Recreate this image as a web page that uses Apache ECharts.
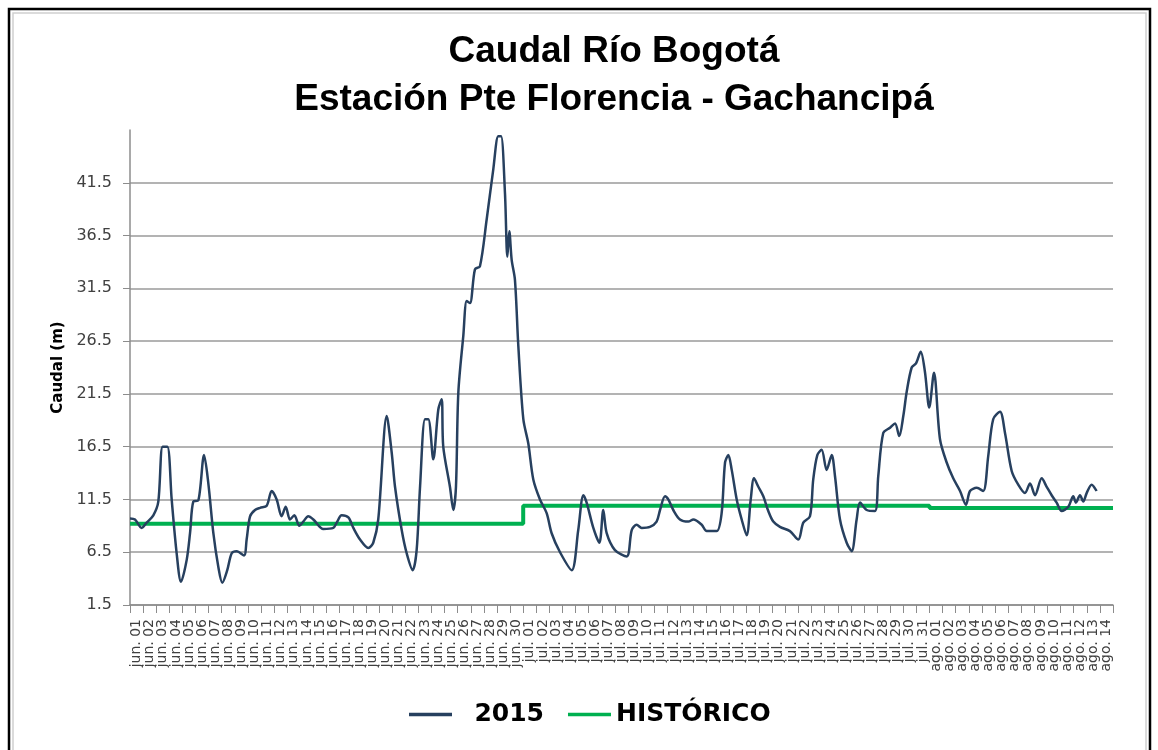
<!DOCTYPE html>
<html>
<head>
<meta charset="utf-8">
<title>Caudal Río Bogotá</title>
<script src="https://cdn.jsdelivr.net/npm/echarts@6/dist/echarts.min.js"></script>
<style>
  html, body { margin: 0; padding: 0; background: #fff; }
  #chart { width: 1158px; height: 750px; }
</style>
</head>
<body>
<div id="chart"></div>
<script>
// etiquetas del eje x, un dia por categoria
var dias = [
  'jun. 01', 'jun. 02', 'jun. 03', 'jun. 04', 'jun. 05', 'jun. 06', 'jun. 07', 'jun. 08', 'jun. 09', 'jun. 10',
  'jun. 11', 'jun. 12', 'jun. 13', 'jun. 14', 'jun. 15', 'jun. 16', 'jun. 17', 'jun. 18', 'jun. 19', 'jun. 20',
  'jun. 21', 'jun. 22', 'jun. 23', 'jun. 24', 'jun. 25', 'jun. 26', 'jun. 27', 'jun. 28', 'jun. 29', 'jun. 30',
  'jul. 01', 'jul. 02', 'jul. 03', 'jul. 04', 'jul. 05', 'jul. 06', 'jul. 07', 'jul. 08', 'jul. 09', 'jul. 10',
  'jul. 11', 'jul. 12', 'jul. 13', 'jul. 14', 'jul. 15', 'jul. 16', 'jul. 17', 'jul. 18', 'jul. 19', 'jul. 20',
  'jul. 21', 'jul. 22', 'jul. 23', 'jul. 24', 'jul. 25', 'jul. 26', 'jul. 27', 'jul. 28', 'jul. 29', 'jul. 30',
  'jul. 31',
  'ago. 01', 'ago. 02', 'ago. 03', 'ago. 04', 'ago. 05', 'ago. 06', 'ago. 07', 'ago. 08', 'ago. 09', 'ago. 10',
  'ago. 11', 'ago. 12', 'ago. 13', 'ago. 14'
];

// 2015: instante (dias desde el 1 de junio) y caudal leido
var instante2015 = [
  0, 0.38, 0.89, 1.27, 1.78, 2.16, 2.49, 2.85, 3.18, 3.56, 3.89, 4.33, 4.58, 4.83, 5.21, 5.65, 5.97,
  6.36, 6.74, 7.04, 7.42, 7.76, 8.14, 8.70, 8.90, 9.16, 9.54, 9.92, 10.43, 10.81, 11.19, 11.57, 11.88,
  12.21, 12.54, 12.92, 13.22, 13.60, 13.99, 14.75, 15.51, 15.77, 16.15, 16.66, 17.04, 17.55, 18.18,
  18.56, 18.94, 19.59, 19.97, 20.22, 20.73, 21.11, 21.57, 21.87, 22.13, 22.51, 22.76, 23.14, 23.52,
  23.78, 23.90, 24.41, 24.67, 24.87, 25.05, 25.43, 25.69, 25.94, 26.32, 26.70, 27.21, 27.72, 28.10,
  28.31, 28.61, 28.79, 28.94, 29.12, 29.37, 29.63, 30.01, 30.39, 30.77, 31.28, 31.79, 32.17, 32.81,
  33.70, 34.20, 34.59, 34.84, 35.35, 35.81, 36.11, 36.37, 37.00, 37.90, 38.28, 38.66, 39.04, 39.67,
  40.18, 40.44, 40.82, 41.07, 41.45, 41.96, 42.60, 42.98, 43.62, 44.00, 44.76, 45.14, 45.40, 45.65,
  45.91, 46.29, 46.67, 47.05, 47.36, 47.61, 47.94, 48.32, 48.70, 49.08, 49.59, 50.35, 50.99, 51.37,
  51.88, 52.13, 52.44, 52.77, 53.15, 53.54, 53.79, 54.17, 54.68, 55.06, 55.44, 55.70, 56.21, 56.84,
  57.09, 57.47, 57.99, 58.37, 58.69, 59.00, 59.26, 59.64, 59.97, 60.33, 60.65, 60.98, 61.34, 61.80,
  62.31, 62.81, 63.33, 63.78, 64.09, 64.60, 65.10, 65.48, 65.86, 66.38, 66.76, 67.27, 67.77, 68.28,
  68.67, 69.05, 69.56, 69.94, 70.32, 70.70, 71.08, 71.59, 71.97, 72.17, 72.48, 72.73, 72.99, 73.37,
  73.75
];
var caudal2015 = [
  9.7, 9.6, 8.8, 9.3, 10.0, 11.3, 16.5, 16.5, 11.5, 6.4, 3.7, 5.8, 8.3, 11.3, 11.4, 15.7, 13.1,
  8.3, 5.1, 3.6, 4.8, 6.4, 6.6, 6.2, 7.7, 9.9, 10.5, 10.7, 10.9, 12.3, 11.5, 9.9, 10.8,
  9.6, 10.0, 9.0, 9.4, 9.9, 9.6, 8.7, 8.8, 9.3, 10.0, 9.8, 8.8, 7.7, 6.9,
  7.4, 9.6, 19.4, 15.9, 12.7, 8.6, 6.4, 4.8, 6.7, 12.7, 19.1, 19.1, 15.3, 20.0,
  21.0, 16.5, 12.7, 10.5, 12.7, 21.6, 27.0, 30.3, 30.1, 33.3, 33.6, 38.0, 42.8, 45.9,
  45.9, 40.5, 34.5, 36.9, 34.2, 32.3, 26.0, 19.1, 16.8, 13.4, 11.5, 10.2, 8.3, 6.5,
  4.8, 8.6, 11.9, 11.2, 8.8, 7.4, 10.5, 8.3, 6.7, 6.1, 8.6, 9.1, 8.8, 8.9,
  9.4, 10.5, 11.8, 11.5, 10.5, 9.6, 9.4, 9.6, 9.1, 8.5, 8.5, 10.2, 15.0, 15.7,
  14.3, 11.5, 9.6, 8.1, 11.5, 13.5, 12.7, 11.8, 10.4, 9.4, 8.9, 8.5, 7.7, 9.3,
  9.9, 13.4, 15.7, 16.2, 14.3, 15.7, 13.7, 9.6, 7.4, 6.6, 9.6, 11.2, 10.5, 10.4,
  13.7, 17.8, 18.3, 18.7, 17.5, 19.4, 21.7, 24.0, 24.4, 25.5, 23.6, 20.2, 23.5, 17.2,
  15.0, 13.5, 12.3, 11.0, 12.3, 12.6, 12.3, 15.6, 19.1, 19.8, 17.8, 14.2, 12.9, 12.1,
  13.0, 11.9, 13.5, 12.7, 11.9, 11.2, 10.4, 10.8, 11.8, 11.2, 11.9, 11.3, 12.1, 12.9,
  12.3
];

// historico: valor constante por tramo (dia de inicio de cada tramo)
var historicoInicio = [0, 30, 61, 75];
var historicoValor = [9.2, 10.9, 10.7, 10.7];

var myChart = echarts.init(document.getElementById('chart'));

var serie2015 = instante2015.map(function (d, i) { return [d, caudal2015[i]]; });
var serieHistorico = historicoInicio.map(function (d, i) { return [d, historicoValor[i]]; });

myChart.setOption({
  animation: false,
  backgroundColor: '#fff',
  graphic: [
    { // marco exterior
      type: 'rect',
      shape: { x: 9, y: 9, width: 1141, height: 760 },
      style: { fill: 'none', stroke: '#000', lineWidth: 2.5 },
      silent: true
    },
    {
      type: 'rect',
      shape: { x: 13, y: 13, width: 1133, height: 760 },
      style: { fill: 'none', stroke: '#cfcfcf', lineWidth: 1.5 },
      silent: true
    }
  ],
  title: {
    text: 'Caudal Río Bogotá\nEstación Pte Florencia - Gachancipá',
    left: 609,
    top: 23,
    textAlign: 'center',
    textStyle: {
      fontFamily: 'Liberation Sans',
      fontWeight: 'bold',
      fontSize: 37,
      lineHeight: 48,
      color: '#000'
    }
  },
  legend: {
    left: 404,
    top: 697,
    icon: 'rect',
    itemWidth: 43,
    itemHeight: 3.5,
    itemGap: 24,
    data: ['2015', 'HISTÓRICO'],
    formatter: function (name) {
      return name === '2015' ? '  ' + name : name;
    },
    textStyle: {
      fontFamily: 'DejaVu Sans',
      fontWeight: 'bold',
      fontSize: 25,
      color: '#000'
    }
  },
  grid: {
    left: 130,
    right: 45,
    top: 130,
    bottom: 145
  },
  xAxis: [{
    type: 'category',
    data: dias,
    boundaryGap: true,
    axisLine: { lineStyle: { color: '#8c8c8c', width: 1.5 } },
    axisTick: { show: true, length: 8, interval: 0, lineStyle: { color: '#8c8c8c' } },
    axisLabel: {
      interval: 0,
      rotate: 90,
      margin: 14,
      fontFamily: 'DejaVu Sans',
      fontSize: 14,
      color: '#404040'
    },
    splitLine: { show: false }
  }, {
    type: 'value',
    min: 0,
    max: 75,
    show: false
  }],
  yAxis: {
    type: 'value',
    min: 1.5,
    max: 46.5,
    interval: 5,
    name: 'Caudal (m)',
    nameLocation: 'middle',
    nameGap: 53,
    nameTextStyle: {
      fontFamily: 'DejaVu Sans',
      fontWeight: 'bold',
      fontSize: 15,
      color: '#000'
    },
    axisLine: { show: true, lineStyle: { color: '#8c8c8c', width: 1.5 } },
    axisTick: { show: true, length: 7, lineStyle: { color: '#8c8c8c' } },
    axisLabel: {
      showMaxLabel: false,
      margin: 18,
      fontFamily: 'DejaVu Sans',
      fontSize: 16,
      color: '#404040',
      formatter: function (v) { return v.toFixed(1); }
    },
    splitLine: {
      show: true,
      showMaxLine: false,
      lineStyle: { color: '#9a9a9a', width: 1.5 }
    }
  },
  series: [{
    name: '2015',
    type: 'line',
    xAxisIndex: 1,
    data: serie2015,
    symbol: 'none',
    smooth: 0.3,
    lineStyle: { color: '#27405f', width: 2.5 },
    itemStyle: { color: '#27405f' },
    z: 3
  }, {
    name: 'HISTÓRICO',
    type: 'line',
    xAxisIndex: 1,
    data: serieHistorico,
    step: 'end',
    symbol: 'none',
    lineStyle: { color: '#00b050', width: 4 },
    itemStyle: { color: '#00b050' },
    z: 2
  }]
});
</script>
</body>
</html>
